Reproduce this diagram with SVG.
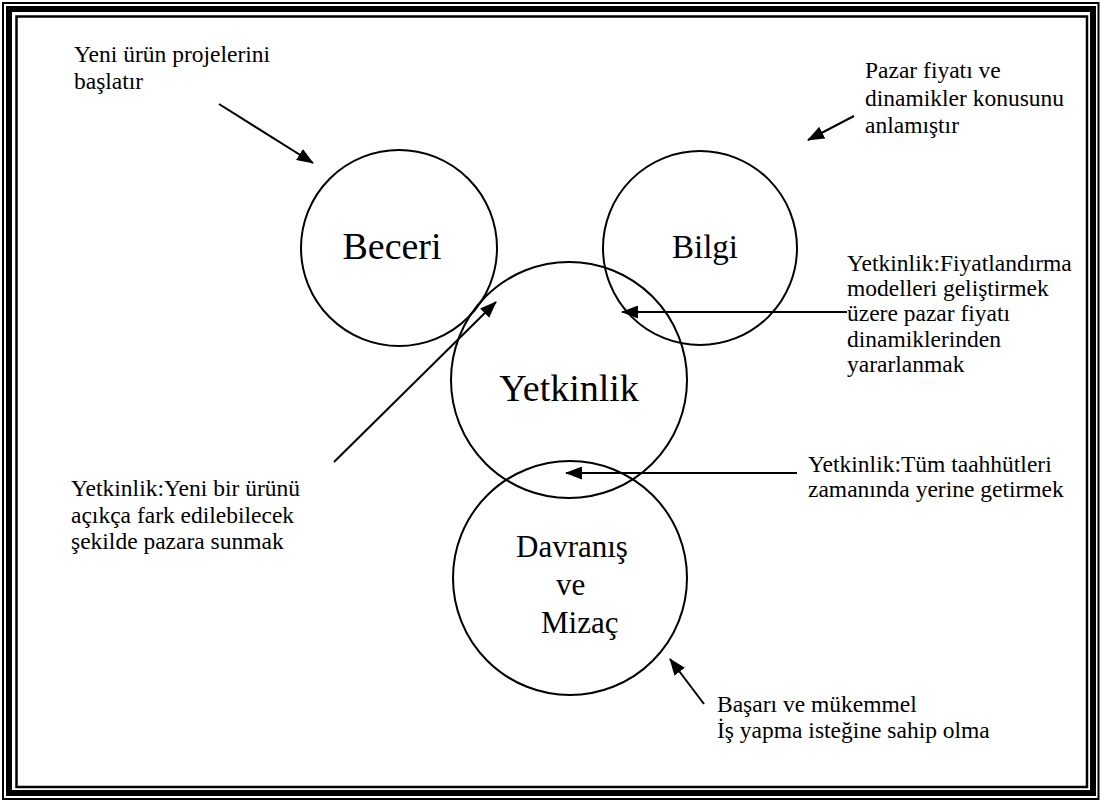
<svg xmlns="http://www.w3.org/2000/svg" width="1100" height="801" viewBox="0 0 1100 801">
  <style>
    .frame { fill: none; stroke: #000; }
    .ring { fill: none; stroke: #000; stroke-width: 2; }
    text { font-family: "Liberation Serif", "Times New Roman", Times, serif; fill: #000; }
    .note { font-size: 23.5px; }
    .link { stroke: #000; stroke-width: 2; fill: none; marker-end: url(#head); }
  </style>
  <defs>
    <marker id="head" markerUnits="userSpaceOnUse" markerWidth="17" markerHeight="13" refX="16" refY="6.5" orient="auto">
      <path d="M0,0 L17,6.5 L0,13 Z" fill="#000"/>
    </marker>
  </defs>

  <rect width="1100" height="801" fill="#fff"/>

  <!-- page border: thin, thick, thin -->
  <g id="border">
    <rect class="frame" x="3" y="3" width="1095.5" height="796" stroke-width="2"/>
    <rect class="frame" x="9" y="9" width="1084" height="784" stroke-width="6"/>
    <rect class="frame" x="16.5" y="16.5" width="1070.5" height="770.5" stroke-width="2.5"/>
  </g>

  <g id="beceri">
    <circle class="ring" cx="399" cy="248" r="98"/>
    <text x="392" y="259" font-size="38" text-anchor="middle">Beceri</text>
  </g>

  <g id="bilgi">
    <circle class="ring" cx="700" cy="248" r="97"/>
    <text x="705" y="258" font-size="33" text-anchor="middle">Bilgi</text>
  </g>

  <g id="yetkinlik">
    <circle class="ring" cx="569" cy="380" r="118"/>
    <text x="569" y="401" font-size="38" text-anchor="middle">Yetkinlik</text>
  </g>

  <g id="davranis" font-size="31">
    <circle class="ring" cx="570" cy="578" r="117"/>
    <text x="516" y="557">Davranış</text>
    <text x="556" y="595">ve</text>
    <text x="541" y="633">Mizaç</text>
  </g>

  <g id="note-beceri">
    <text class="note" x="74" y="62">Yeni ürün projelerini</text>
    <text class="note" x="74" y="89">başlatır</text>
  </g>

  <g id="note-bilgi">
    <text class="note" x="865" y="78">Pazar fiyatı ve</text>
    <text class="note" x="865" y="106">dinamikler konusunu</text>
    <text class="note" x="865" y="133">anlamıştır</text>
  </g>

  <g id="note-fiyat">
    <text class="note" x="847" y="271">Yetkinlik:Fiyatlandırma</text>
    <text class="note" x="847" y="296">modelleri geliştirmek</text>
    <text class="note" x="847" y="321">üzere pazar fiyatı</text>
    <text class="note" x="847" y="347">dinamiklerinden</text>
    <text class="note" x="847" y="372">yararlanmak</text>
  </g>

  <g id="note-urun">
    <text class="note" x="71" y="496">Yetkinlik:Yeni bir ürünü</text>
    <text class="note" x="71" y="523">açıkça fark edilebilecek</text>
    <text class="note" x="71" y="549">şekilde pazara sunmak</text>
  </g>

  <g id="note-taahhut">
    <text class="note" x="808" y="472">Yetkinlik:Tüm taahhütleri</text>
    <text class="note" x="808" y="497">zamanında yerine getirmek</text>
  </g>

  <g id="note-basari">
    <text class="note" x="717" y="712">Başarı ve mükemmel</text>
    <text class="note" x="717" y="738">İş yapma isteğine sahip olma</text>
  </g>

  <g id="connectors">
    <line class="link" x1="219" y1="104" x2="313" y2="163"/>
    <line class="link" x1="854" y1="116" x2="808" y2="140"/>
    <line class="link" x1="334" y1="462" x2="496" y2="302"/>
    <line class="link" x1="847" y1="312" x2="622" y2="312"/>
    <line class="link" x1="797" y1="473" x2="566" y2="473"/>
    <line class="link" x1="704" y1="704" x2="670" y2="659"/>
  </g>
</svg>
